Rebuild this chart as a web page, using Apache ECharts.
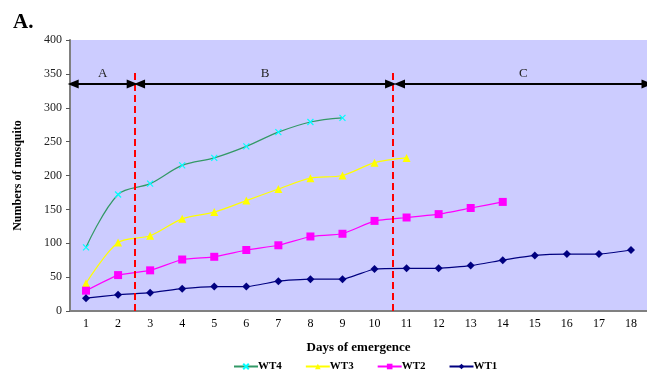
<!DOCTYPE html>
<html><head><meta charset="utf-8">
<script src="https://cdn.jsdelivr.net/npm/echarts@6/dist/echarts.min.js"></script>
<style>html,body{margin:0;padding:0;background:#fff}#c{width:647px;height:376px}</style>
</head><body><div id="c"></div>
<script>
const days = ['1','2','3','4','5','6','7','8','9','10','11','12','13','14','15','16','17','18'];
const WT4 = [94,172,188,215,226,243,264,279,285];
const WT3 = [41,101,111,136,146,163,180,196,200,219,226];
const WT2 = [30,53,60,76,80,90,97,110,114,133,138,143,152,161];
const WT1 = [19,24,27,33,36,36,44,47,47,62,63,63,67,75,82,84,84,90];
const yTicks = [0,50,100,150,200,250,300,350,400];
const phaseBounds = [2.03, 10.08];
const phases = [
  {name:'A', from:0.1, to:1.94},
  {name:'B', from:2.17, to:10.0},
  {name:'C', from:10.28, to:18.0}
];
const arrowY = 335;

const serif = 'Liberation Serif';
const chart = echarts.init(document.getElementById('c'));
chart.setOption({
  animation:false,
  title:{text:'A.',left:8,top:7,textStyle:{fontFamily:serif,fontWeight:'bold',fontSize:21,color:'#000'}},
  grid:{left:70,right:-4,top:40,bottom:65,show:true,backgroundColor:'#CCCCFF',borderWidth:0},
  legend:{
    bottom:-1,left:228,itemWidth:24,itemHeight:7,itemGap:23,
    textStyle:{fontFamily:serif,fontSize:11,fontWeight:'bold',color:'#000',padding:[0,0,0,-5]},
    data:['WT4','WT3','WT2','WT1']
  },
  xAxis:[{
    type:'category',data:days,boundaryGap:true,
    name:'Days of emergence',nameLocation:'middle',nameGap:30,
    nameTextStyle:{fontFamily:serif,fontWeight:'bold',fontSize:13,color:'#000'},
    axisLine:{lineStyle:{color:'#808080',width:2}},
    axisTick:{inside:true,length:5,lineStyle:{color:'#555'}},
    axisLabel:{fontFamily:serif,fontSize:12,color:'#000',margin:7}
  },{
    type:'value',min:0,max:18,show:false
  }],
  yAxis:{
    type:'value',min:yTicks[0],max:yTicks[yTicks.length-1],interval:50,
    name:'Numbers of mosquito',nameLocation:'middle',nameGap:46,nameRotate:90,
    nameTextStyle:{fontFamily:serif,fontWeight:'bold',fontSize:12,color:'#000'},
    axisLine:{show:true,lineStyle:{color:'#808080',width:2}},
    axisTick:{show:true,length:4,lineStyle:{color:'#555'}},
    axisLabel:{fontFamily:serif,fontSize:12,color:'#222',margin:8},
    splitLine:{show:false}
  },
  series:[
    {name:'WT4',type:'line',data:WT4,smooth:0.35,symbol:'path://M0,0L10,10M10,0L0,10',symbolSize:6,
     lineStyle:{color:'#339966',width:1.2},itemStyle:{color:'#00FFFF',borderColor:'#00FFFF',borderWidth:1.2}},
    {name:'WT3',type:'line',data:WT3,smooth:0.3,symbol:'triangle',symbolSize:8,
     lineStyle:{color:'#FFFF00',width:1.2},itemStyle:{color:'#FFFF00'}},
    {name:'WT2',type:'line',data:WT2,smooth:0.15,symbol:'rect',symbolSize:8,
     lineStyle:{color:'#FF00FF',width:1.2},itemStyle:{color:'#FF00FF'}},
    {name:'WT1',type:'line',data:WT1,smooth:0.15,symbol:'diamond',symbolSize:8,
     lineStyle:{color:'#000080',width:1.2},itemStyle:{color:'#000080'}},
    {name:'phases',type:'line',xAxisIndex:1,data:[],silent:true,
     markLine:{
       silent:true,animation:false,
       data:[
         ...phaseBounds.map(b=>[
           {coord:[b,0],symbol:'none',lineStyle:{color:'#FF0000',type:[7,4],width:2},label:{show:false}},
           {coord:[b,356],symbol:'none'}
         ]),
         ...phases.map(p=>[
           {coord:[p.from,arrowY],symbol:'triangle',symbolRotate:90,symbolSize:[9,11],
            lineStyle:{color:'#000',type:'solid',width:2},
            label:{show:true,position:'middle',formatter:p.name,fontFamily:serif,fontSize:13,color:'#222',distance:4}},
           {coord:[p.to,arrowY],symbol:'triangle',symbolSize:[9,11]}
         ])
       ]
     }}
  ]
});
</script></body></html>
